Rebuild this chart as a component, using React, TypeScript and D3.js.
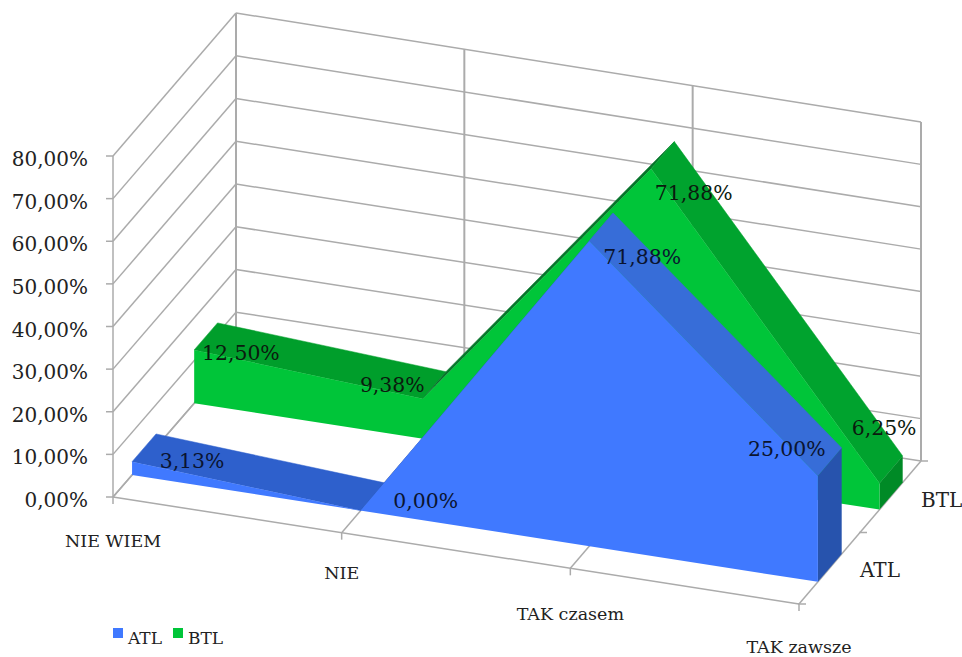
import React from "react";
import * as d3 from "d3";

const categories = ["NIE WIEM", "NIE", "TAK czasem", "TAK zawsze"];
const seriesNames = ["ATL", "BTL"];
const atlValues = [3.13, 0, 71.88, 25];
const btlValues = [12.5, 9.38, 71.88, 6.25];
const atlLabels = ["3,13%", "0,00%", "71,88%", "25,00%"];
const btlLabels = ["12,50%", "9,38%", "71,88%", "6,25%"];
const valueTicks = [0, 10, 20, 30, 40, 50, 60, 70, 80];
const tickLabels = ["0,00%", "10,00%", "20,00%", "30,00%", "40,00%", "50,00%", "60,00%", "70,00%", "80,00%"];

// Screen positions of the plot box corners: [front/back][left/right][floor/top]
type P = [number, number];
const corners: Record<string, P> = {
  flb: [113, 497], flt: [113, 156],
  frb: [799, 604], frt: [799, 265],
  blb: [236, 355], blt: [236, 13],
  brb: [921, 461], brt: [921, 122],
};
// Distance from the floor's front edge down to each category label's baseline
const categoryDrop = [50, 46, 52, 48.5];

const uScale = d3.scaleLinear().domain([0, categories.length - 1]).range([0, 1]);
const vScale = d3.scaleLinear().domain([0, 80]).range([0, 1]);
const lerp = (a: P, b: P, t: number): P => [a[0] + (b[0] - a[0]) * t, a[1] + (b[1] - a[1]) * t];

// Trilinear projection: category index, depth (0 front, 1 back), value
function project(cat: number, depth: number, value: number): P {
  const u = uScale(cat);
  const v = vScale(value);
  const front = lerp(lerp(corners.flb, corners.frb, u), lerp(corners.flt, corners.frt, u), v);
  const back = lerp(lerp(corners.blb, corners.brb, u), lerp(corners.blt, corners.brt, u), v);
  return lerp(front, back, depth);
}

const poly = d3.line<P>().curve(d3.curveLinearClosed);
const seg = (a: P, b: P) => d3.line<P>()([a, b]) as string;

const GRID = "#ababab";
const FONT = "'DejaVu Serif', serif";

type Band = {
  values: number[];
  labels: string[];
  near: number;
  far: number;
  front: string;
  topFlat: string;
  topFall: string;
  topRise: string;
  end: string;
  nudge: P[];
  labelFill: string;
};

const bands: Band[] = [
  {
    values: btlValues, labels: btlLabels, near: 0.66, far: 0.85,
    front: "#00c539", topFlat: "#009e2b", topFall: "#00a32e", topRise: "#07752b", end: "#008a26",
    nudge: [[35, 24], [-42, 7], [31, 45], [-7, -35]],
    labelFill: "#0b1a0e",
  },
  {
    values: atlValues, labels: atlLabels, near: 0.155, far: 0.35,
    front: "#4079ff", topFlat: "#2e60cc", topFall: "#376dd8", topRise: "#2e60cc", end: "#2753ad",
    nudge: [[48, 20], [53, 11], [41, 37], [-43, -6]],
    labelFill: "#0a1430",
  },
];

// Faces of one area band, back to front: sloped top strips, right end cap, front face
function Series({ band }: { band: Band }) {
  const { values, near, far } = band;
  const last = values.length - 1;
  const frontOutline: P[] = [
    ...values.map((v, i) => project(i, near, v)),
    project(last, near, 0),
    project(0, near, 0),
  ];
  return (
    <g>
      {values.slice(0, last).map((v, i) => {
        const change = values[i + 1] - v;
        const shade = change > 20 ? band.topRise : change < -20 ? band.topFall : band.topFlat;
        return (
          <path
            key={i}
            d={poly([
              project(i, near, v),
              project(i + 1, near, values[i + 1]),
              project(i + 1, far, values[i + 1]),
              project(i, far, v),
            ]) as string}
            fill={shade}
            stroke={shade}
            strokeWidth={0.5}
          />
        );
      })}
      <path
        d={poly([
          project(last, near, values[last]),
          project(last, far, values[last]),
          project(last, far, 0),
          project(last, near, 0),
        ]) as string}
        fill={band.end}
      />
      <path d={poly(frontOutline) as string} fill={band.front} />
    </g>
  );
}

export default function App() {
  const yTop = valueTicks[valueTicks.length - 1];
  const lastCat = categories.length - 1;
  return (
    <svg
      width={962}
      height={657}
      style={{ position: "absolute", left: 0, top: 0, background: "#fff" }}
      fontFamily={FONT}
    >
      {/* walls and floor */}
      <g stroke={GRID} strokeWidth={1.5} fill="none">
        {valueTicks.map((t) => (
          <g key={t}>
            <path d={seg(project(0, 0, t), project(0, 1, t))} />
            <path d={seg(project(0, 1, t), project(lastCat, 1, t))} />
            <path d={seg(project(0, 0, t), [project(0, 0, t)[0] - 7, project(0, 0, t)[1]])} />
          </g>
        ))}
        <path d={seg(project(0, 0, 0), project(0, 0, yTop))} />
        {categories.map((_, i) => (
          <path key={i} d={seg(project(i, 1, 0), project(i, 1, yTop))} strokeWidth={2} />
        ))}
        {categories.map((_, i) => (
          <g key={i}>
            <path d={seg(project(i, 0, 0), project(i, 1, 0))} />
            <path d={seg(project(i, 0, 0), [project(i, 0, 0)[0], project(i, 0, 0)[1] + 7])} />
          </g>
        ))}
        <path d={seg(project(0, 0, 0), project(lastCat, 0, 0))} />
        {[0, 0.5, 1].map((d) => {
          const p = project(lastCat, d, 0);
          return <path key={d} d={seg([p[0] - 1, p[1]], [p[0] + 7, p[1]])} />;
        })}
      </g>

      {bands.map((b) => (
        <Series key={b.near} band={b} />
      ))}

      {/* value labels sit on top of both areas */}
      <g fontSize={20.4} textAnchor="middle">
        {bands.map((b) =>
          b.labels.map((label, i) => {
            const p = project(i, (b.near + b.far) / 2, b.values[i]);
            return (
              <text key={label + i} x={p[0] + b.nudge[i][0]} y={p[1] + b.nudge[i][1]} fill={b.labelFill}>
                {label}
              </text>
            );
          }),
        )}
      </g>

      {/* value axis */}
      <g fontSize={20} textAnchor="end" fill="#222">
        {valueTicks.map((t, i) => {
          const p = project(0, 0, t);
          return (
            <text key={t} x={p[0] - 25} y={p[1] + 10}>
              {tickLabels[i]}
            </text>
          );
        })}
      </g>

      {/* category axis */}
      <g fontSize={17.5} textAnchor="middle" fill="#222">
        {categories.map((c, i) => {
          const p = project(i, 0, 0);
          return (
            <text key={c} x={p[0]} y={p[1] + categoryDrop[i]}>
              {c}
            </text>
          );
        })}
      </g>

      {/* depth axis */}
      <g fontSize={20} fill="#222">
        <text x={860} y={577}>{seriesNames[0]}</text>
        <text x={921} y={507}>{seriesNames[1]}</text>
      </g>

      {/* legend */}
      <g fontSize={17} fill="#222">
        <rect x={113} y={628} width={10} height={10} fill={bands[1].front} />
        <text x={128} y={644}>{seriesNames[0]}</text>
        <rect x={173} y={628} width={10} height={10} fill={bands[0].front} />
        <text x={188} y={644}>{seriesNames[1]}</text>
      </g>
    </svg>
  );
}
